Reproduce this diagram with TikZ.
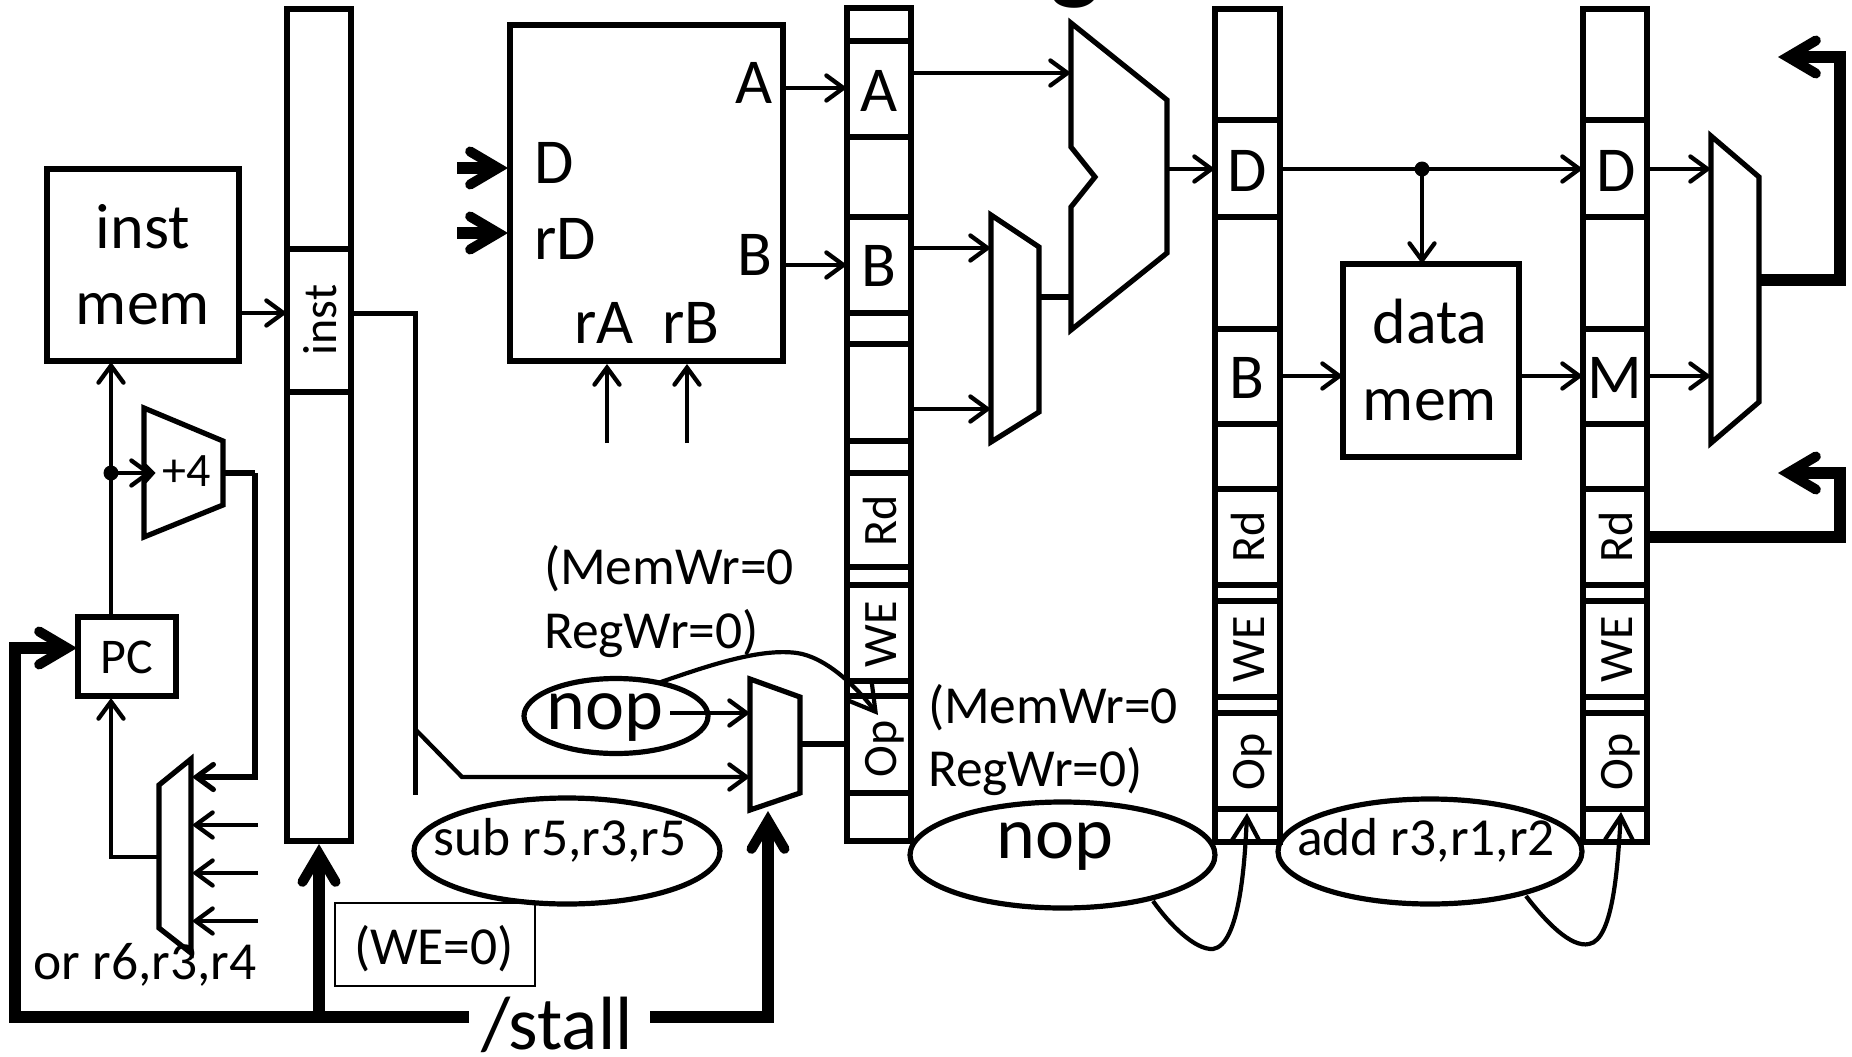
\documentclass[tikz,border=0pt]{standalone}
\usepackage{fontspec}
\setmainfont{Carlito}
\usetikzlibrary{arrows.meta,shapes.geometric}
\newcommand{\boxat}[5]{\node[cellbox,minimum width={(#4-#2)*1pt},minimum height={(#5-#3)*1pt}] (#1) at ({(#2+#4)/2},{(#3+#5)/2}) {};}
\tikzset{
  cellbox/.style={draw,line width=5.2pt,rectangle,inner sep=0pt,outer sep=0pt},
  txt/.style={inner sep=0pt,outer sep=0pt,anchor=base},
  f45/.style={txt,font=\fontsize{48}{48}\selectfont},
  f51/.style={txt,font=\fontsize{53.5}{54}\selectfont},
  f62/.style={txt,font=\fontsize{64}{64}\selectfont},
  f70/.style={txt,font=\fontsize{74}{74}\selectfont},
  vert/.style={f45,rotate=90},
  shapeline/.style={draw,line width=5.2pt,line join=miter},
  wire/.style={line width=4.3pt,line join=miter},
  conn/.style={wire,-{Straight Barb[length=17pt,width=25pt,line cap=round]}},
  curve/.style={line width=4.2pt,-{Straight Barb[length=24pt,width=28pt,line cap=round]}},
  heavy/.style={line width=12.5pt,line join=miter},
  heavyarrow/.style={heavy,-{Straight Barb[length=28pt,width=33pt,line cap=round,line width=10pt]}},
  oval/.style={draw,ellipse,line width=5.2pt,inner sep=0pt,outer sep=0pt},
  dot/.style={circle,fill=black,inner sep=0pt,outer sep=0pt,minimum size=15pt},
}
\begin{document}
\begin{tikzpicture}[x=1pt,y=-1pt]
\useasboundingbox (0,0) rectangle (1852,1057);

% clipped title fragment
\begin{scope}
\clip (0,0) rectangle (1852,40);
\node[txt,font=\bfseries\fontsize{105}{105}\selectfont] (titleg) at (1075,-9) {g};
\end{scope}

% instruction memory, PC
\boxat{imem}{47}{169}{239}{361}
\node[f62] (imemA) at (143,248) {inst};
\node[f62] (imemB) at (143,324) {mem};
\boxat{pc}{78}{617}{176}{696}
\node[txt,font=\fontsize{50}{50}\selectfont] (pcT) at (127,673) {PC};

% adder
\draw[shapeline] (144,408) -- (223,441) -- (223,505) -- (144,537) -- (144,482) -- (152,473) -- (144,465) -- cycle;
\node[f45] (plusfour) at (187,486) {+4};
\node[dot] (pcdot) at (111,473) {};
\coordinate (addin) at (152,473);
\coordinate (addout) at (223,473);

% PC mux
\draw[shapeline] (159,785) -- (191,759) -- (191,953) -- (159,928) -- cycle;
\coordinate (pmA) at (192,777);
\coordinate (pmB) at (192,825);
\coordinate (pmC) at (192,873);
\coordinate (pmD) at (192,921);
\coordinate (pmO) at (159,857);
\coordinate (pmBs) at (258,825);
\coordinate (pmCs) at (258,873);
\coordinate (pmDs) at (258,921);

\coordinate (pcup) at (111,617);
\coordinate (imemin) at (111,362);
\draw[conn] (pcup) -- (imemin);
\draw[conn] (pcdot.center) -- (addin);
\draw[wire,line width=5.2pt] (addout) -- (255,473) coordinate (c1);
\draw[conn,line width=5.2pt] (c1) -- (255,777) -- (pmA);
\draw[conn] (pmBs) -- (pmB);
\draw[conn] (pmCs) -- (pmC);
\draw[conn] (pmDs) -- (pmD);
\draw[conn] (pmO) -- (111,857) -- (111,698) coordinate (pcin);

% IF/ID register
\boxat{ifid}{287}{9}{351}{841}
\boxat{icell}{287}{249}{351}{392}
\node[vert] (icellT) at (336,320) {inst};
\draw[conn] (239,313) coordinate (imout) -- (287,313) coordinate (ifidin);

% Register file
\boxat{rf}{510}{25}{783}{361}
\node[f62,anchor=base east] (rfA) at (773,103) {A};
\node[f62,anchor=base east] (rfB) at (772,275) {B};
\node[f62,anchor=base west] (rfD) at (534,183) {D};
\node[f62,anchor=base west] (rfrD) at (534,259) {rD};
\node[f62,anchor=base west] (rfrA) at (574,343) {rA};
\node[f62,anchor=base west] (rfrB) at (662,343) {rB};
\coordinate (dS) at (457,168);
\coordinate (dE) at (508,168);
\coordinate (rdS) at (457,233);
\coordinate (rdE) at (508,233);
\draw[heavyarrow] (dS) -- (dE);
\draw[heavyarrow] (rdS) -- (rdE);
\coordinate (raS) at (607,443);
\coordinate (raE) at (607,364);
\coordinate (rbS) at (687,443);
\coordinate (rbE) at (687,364);
\draw[conn] (raS) -- (raE);
\draw[conn] (rbS) -- (rbE);

% ID/EX register
\boxat{idex}{847}{8}{911}{841}
\boxat{xA}{847}{41}{911}{137}
\boxat{xB}{847}{217}{911}{313}
\boxat{xE}{847}{344}{911}{441}
\boxat{xRd}{847}{473}{911}{567}
\boxat{xWE}{847}{585}{911}{681}
\boxat{xOp}{847}{696}{911}{793}
\node[f62] (xAT) at (879,111) {A};
\node[f62] (xBT) at (879,286) {B};
\node[vert] (xRdT) at (896,521) {Rd};
\node[vert] (xWET) at (896,634) {WE};
\node[vert] (xOpT) at (896,749) {Op};
\draw[conn] (783,88) coordinate (rfAo) -- (847,88) coordinate (xAi);
\draw[conn] (783,265) coordinate (rfBo) -- (847,265) coordinate (xBi);

% ALU
\draw[shapeline] (1071,23) -- (1167,100) -- (1167,253) -- (1071,330) -- (1071,207) -- (1095,177) -- (1071,147) -- cycle;
% ALU B mux
\draw[shapeline] (991,215) -- (1039,247) -- (1039,412) -- (991,442) -- cycle;
\draw[conn] (911,73) coordinate (xAo) -- (1071,73) coordinate (aluA);
\draw[conn] (911,248) coordinate (xBo) -- (991,248) coordinate (bmA);
\draw[conn] (911,409) coordinate (xEo) -- (991,409) coordinate (bmB);
\draw[wire,line width=6pt] (1039,297) coordinate (bmO) -- (1071,297) coordinate (aluB);

% EX/MEM register
\boxat{em}{1215}{9}{1280}{842}
\boxat{eD}{1215}{120}{1280}{217}
\boxat{eB}{1215}{329}{1280}{424}
\boxat{eRd}{1215}{489}{1280}{585}
\boxat{eWE}{1215}{601}{1280}{697}
\boxat{eOp}{1215}{713}{1280}{809}
\node[f62] (eDT) at (1247,191) {D};
\node[f62] (eBT) at (1247,398) {B};
\node[vert] (eRdT) at (1264,537) {Rd};
\node[vert] (eWET) at (1264,649) {WE};
\node[vert] (eOpT) at (1264,762) {Op};
\draw[conn] (1167,169) coordinate (aluO) -- (1215,169) coordinate (eDi);

% MEM/WB register
\boxat{mw}{1583}{9}{1647}{842}
\boxat{mD}{1583}{120}{1647}{217}
\boxat{mM}{1583}{329}{1647}{424}
\boxat{mRd}{1583}{489}{1647}{585}
\boxat{mWE}{1583}{601}{1647}{697}
\boxat{mOp}{1583}{713}{1647}{809}
\node[f62] (mDT) at (1616,191) {D};
\node[f62] (mMT) at (1615,398) {M};
\node[vert] (mRdT) at (1632,537) {Rd};
\node[vert] (mWET) at (1632,649) {WE};
\node[vert] (mOpT) at (1632,762) {Op};

% data memory
\boxat{dmem}{1343}{264}{1519}{457}
\node[f62] (dmA) at (1430,343) {data};
\node[f62] (dmB) at (1430,420) {mem};
\node[dot] (ddot) at (1422,169) {};
\draw[conn] (1280,169) coordinate (eDo) -- (1583,169) coordinate (mDi);
\draw[conn] (ddot.center) -- (1422,264) coordinate (dmT);
\draw[conn] (1280,376) coordinate (eBo) -- (1343,376) coordinate (dmL);
\draw[conn] (1519,376) coordinate (dmR) -- (1583,376) coordinate (mMi);

% WB mux
\draw[shapeline] (1711,136) -- (1759,177) -- (1759,402) -- (1711,443) -- cycle;
\draw[conn] (1647,169) coordinate (mDo) -- (1711,169) coordinate (wbA);
\draw[conn] (1647,376) coordinate (mMo) -- (1711,376) coordinate (wbB);
\coordinate (wbO) at (1759,280);
\coordinate (wbE) at (1778,57);
\draw[heavyarrow] (wbO) -- (1840,280) -- (1840,57) -- (wbE);
\coordinate (mRdO) at (1647,537);
\coordinate (rdE2) at (1778,473);
\draw[heavyarrow] (mRdO) -- (1840,537) -- (1840,473) -- (rdE2);

% instruction mux
\draw[shapeline] (750,679) -- (800,697) -- (800,793) -- (750,810) -- cycle;
\draw[wire,line width=5.2pt] (800,744) coordinate (imO) -- (847,744) coordinate (xOpI);
\coordinate (imA) at (750,713);
\coordinate (imB) at (750,777);
\draw[wire,line width=5pt] (351,313) coordinate (ifo) -- (415,313) -- (415,795) coordinate (ifstub);
\coordinate (ifbr) at (415,729);
\draw[conn] (ifbr) -- (462,777) -- (imB);
\coordinate (nopO) at (670,713);
\draw[conn] (nopO) -- (imA);

% ellipses and labels
\node[oval,minimum width=184pt,minimum height=75pt] (nopA) at (616,716) {};
\node[f70] (nopAT) at (605,729) {nop};
\node[oval,minimum width=306pt,minimum height=106pt] (subE) at (567,851) {};
\node[f51] (subT) at (560,855) {sub r5,r3,r5};
\node[oval,minimum width=305pt,minimum height=106pt] (nopB) at (1062.5,855) {};
\node[f70] (nopBT) at (1055,858) {nop};
\node[oval,minimum width=304pt,minimum height=105pt] (addE) at (1430,851.5) {};
\node[f51] (addT) at (1426,855) {add r3,r1,r2};
\node[f51,anchor=base west] (memA1) at (544,584) {(MemWr=0};
\node[f51,anchor=base west] (regA1) at (544,648) {RegWr=0)};
\node[f51,anchor=base west] (memA2) at (928,723) {(MemWr=0};
\node[f51,anchor=base west] (regA2) at (928,786) {RegWr=0)};
\node[f51] (orT) at (145,979) {or r6,r3,r4};
\node[draw,line width=1.3pt,rectangle,inner sep=0pt,outer sep=0pt,minimum width=200pt,minimum height=83pt] (weBox) at (435,944.5) {};
\node[f51] (weT) at (434,964) {(WE=0)};

% curved connectors
\coordinate (c1s) at (658,683);
\coordinate (c1e) at (878,715);
\draw[curve] (c1s) .. controls (710,665) and (760,648) .. (797,653) .. controls (825,657) and (855,685) .. (c1e);
\coordinate (c2s) at (1153,901);
\coordinate (c2e) at (1247,813);
\draw[curve] (c2s) .. controls (1170,925) and (1195,950) .. (1213,949) .. controls (1240,945) and (1245,860) .. (c2e);
\coordinate (c3s) at (1526,896);
\coordinate (c3e) at (1621,812);
\draw[curve] (c3s) .. controls (1546,922) and (1571,948) .. (1589,944) .. controls (1614,940) and (1618,860) .. (c3e);

% stall
\node[txt,font=\fontsize{75.5}{75.5}\selectfont] (stallT) at (557,1049) {/stall};
\coordinate (stL) at (469,1017);
\coordinate (pcS) at (77,648);
\draw[heavyarrow] (stL) -- (15,1017) -- (15,648) -- (pcS);
\coordinate (ifS) at (319,1017);
\coordinate (ifE) at (319,844);
\draw[heavyarrow] (ifS) -- (ifE);
\coordinate (stR) at (650,1017);
\coordinate (imS) at (768,811);
\draw[heavyarrow] (stR) -- (768,1017) -- (imS);
\end{tikzpicture}
\end{document}
